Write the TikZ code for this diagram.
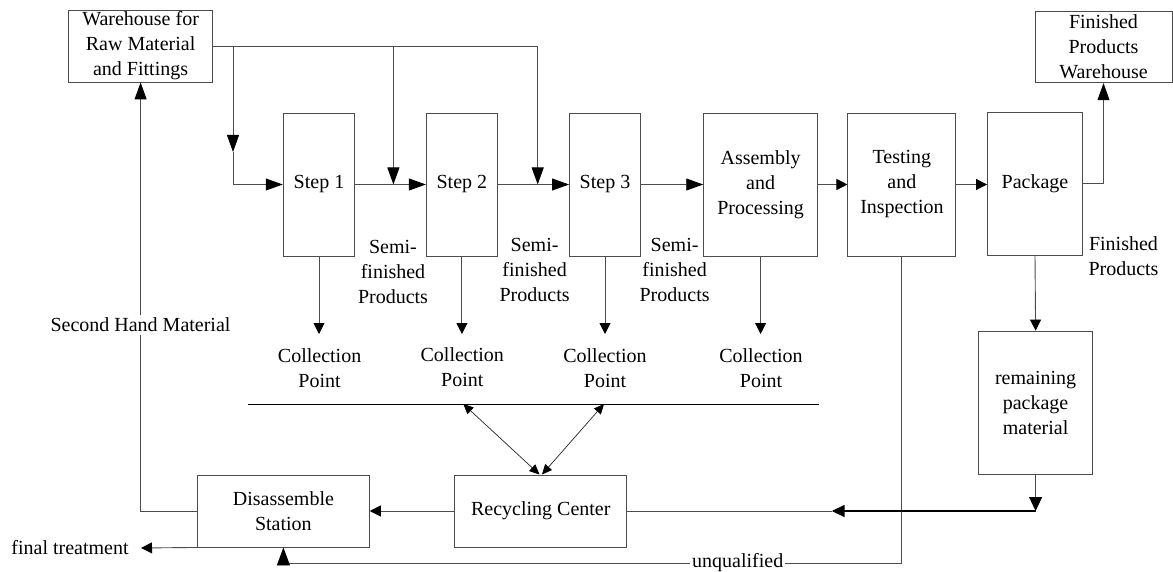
\documentclass[tikz,border=0pt]{standalone}
\usepackage{fontspec}
\setmainfont{Liberation Serif}
\newfontfamily\tnr{Liberation Serif}
\usetikzlibrary{arrows.meta,calc}
\begin{document}
\begin{tikzpicture}[x=1pt,y=-1pt,
  every node/.style={font=\tnr\fontsize{20}{25}\selectfont, align=center, inner sep=0pt},
  box/.style={draw=black!70, line width=0.9pt},
  ln/.style={draw=black!70, line width=0.9pt},
  tip/.style={-{Triangle[length=#1,width=12pt,color=black]}},
  arr/.style={ln, -{Triangle[length=17pt,width=12pt,color=black]}},
  sarr/.style={ln, -{Triangle[length=11pt,width=11pt,color=black]}},
  darr/.style={draw=black!85, line width=0.7pt, {Triangle[length=10pt,width=9pt,color=black]}-{Triangle[length=10pt,width=9pt,color=black]}},
  lbl/.style={fill=white, inner xsep=2pt, inner ysep=3pt}
]
\useasboundingbox (0,0) rectangle (1173,572);

% boxes
\node[box, minimum width=143.5pt, minimum height=72pt] (wh) at (140.6,46) {Warehouse for\\Raw Material\\and Fittings};
\node[box, minimum width=137pt, minimum height=71pt] (fpw) at (1103.5,47.2) {Finished\\Products\\Warehouse};
\node[box, minimum width=71.6pt, minimum height=143pt] (s1) at (319,184.5) {Step 1};
\node[box, minimum width=71.2pt, minimum height=143pt] (s2) at (461.9,184.5) {Step 2};
\node[box, minimum width=71pt, minimum height=143pt] (s3) at (605,184.5) {Step 3};
\node[box, minimum width=113.8pt, minimum height=143pt] (asm) at (760.6,184.5) {Assembly\\and\\Processing};
\node[box, minimum width=108pt, minimum height=143pt] (tst) at (901.9,184.5) {Testing\\and\\Inspection};
\node[box, minimum width=95pt, minimum height=143pt] (pkg) at (1035,183.5) {Package};
\node[box, minimum width=114.6pt, minimum height=143pt] (rem) at (1035.6,402.5) {remaining\\package\\material};
\node[box, minimum width=171.8pt, minimum height=72pt] (rc) at (540.8,511) {Recycling Center};
\node[box, minimum width=171.8pt, minimum height=72pt] (ds) at (283.4,511) {Disassemble\\Station};

% text labels
\node (sm1) at (393,272) {Semi-\\finished\\Products};
\node (sm2) at (534.6,270) {Semi-\\finished\\Products};
\node (sm3) at (674.6,270) {Semi-\\finished\\Products};
\node (fp) at (1123.5,256) {Finished\\Products};
\node (cp1) at (319.6,368.5) {Collection\\Point};
\node (cp2) at (462.3,367) {Collection\\Point};
\node (cp3) at (605,368.5) {Collection\\Point};
\node (cp4) at (761,368.5) {Collection\\Point};
\node (ft) at (70,548) {final treatment};

% coordinates
\coordinate (t1) at (233,46);
\coordinate (t2) at (393.4,46);
\coordinate (t3) at (537.7,46);
\coordinate (m1) at (233,152);
\coordinate (b1) at (233,184.5);
\coordinate (b2) at (393.4,184.5);
\coordinate (b3) at (537.7,184.5);
\coordinate (a1) at (319,334);
\coordinate (a2) at (461.9,334);
\coordinate (a3) at (605,334);
\coordinate (a4) at (760.6,334);
\coordinate (hl1) at (247.6,404);
\coordinate (hl2) at (819,404);
\coordinate (h1) at (463.3,404);
\coordinate (h2) at (604,404);
\coordinate (rcn1) at (539.5,474.5);
\coordinate (rcn2) at (542,474.5);
\coordinate (j) at (1035.6,511);
\coordinate (k) at (831.7,511);
\coordinate (ftp) at (141,548);

% supply lines
\draw[ln] (wh.east) -- (t3);
\draw[arr] (t1) -- (m1);
\draw[ln] (m1) -- (b1);
\draw[arr] (b1) -- (s1.west);
\draw[arr] (t2) -- (b2);
\draw[arr] (t3) -- (b3);

% main flow
\draw[arr] (s1) -- (s2);
\draw[arr] (s2) -- (s3);
\draw[arr] (s3) -- (asm);
\draw[sarr] (asm) -- (tst);
\draw[sarr] (tst.east) -- (pkg.west |- tst.east);
\draw[arr] (pkg.east) -| (fpw.south);

% collection
\draw[sarr] (s1.south) -- (a1);
\draw[sarr] (s2.south) -- (a2);
\draw[sarr] (s3.south) -- (a3);
\draw[sarr] (asm.south) -- (a4);
\draw[black, line width=0.9pt] (hl1) -- (hl2);
\draw[darr] (h1) -- (rcn1);
\draw[darr] (h2) -- (rcn2);

% recycling
\draw[sarr] (rc) -- (ds);
\draw[arr] (ds.west) -| (wh.south);
\node[lbl] (sh) at (140.5,325) {Second Hand Material};
\draw[sarr] (ds.south west) -- (ftp);
\draw[ln, -{Triangle[length=18pt,width=13pt,color=black]}] (tst.south) |- (ds.south |- 0,563) -- (ds.south);
\node[lbl, inner ysep=1pt] (uq) at (737.7,563) {unqualified};

% package material
\draw[sarr] (pkg.south) -- (rem.north);
\draw[ln, -{Triangle[length=14pt,width=13pt,color=black]}] (rem.south) -- (j);
\draw[ln] (rc.east) -- (k);
\draw[black, line width=1.6pt, -{Triangle[length=13pt,width=12pt]}] (j) -- (k);
\end{tikzpicture}
\end{document}
